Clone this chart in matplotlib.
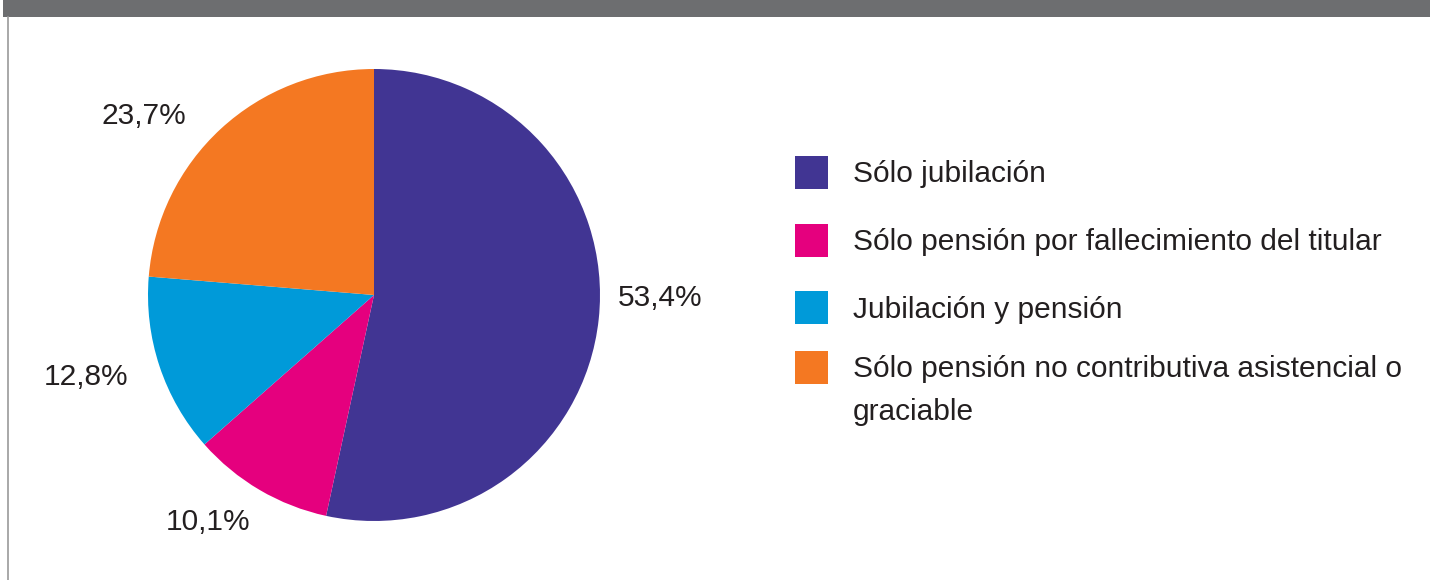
import matplotlib.pyplot as plt
from matplotlib.patches import Rectangle

# Data
categories = ["Sólo jubilación",
              "Sólo pensión por fallecimiento del titular",
              "Jubilación y pensión",
              "Sólo pensión no contributiva asistencial o\ngraciable"]
values = [53.4, 10.1, 12.8, 23.7]
colors = ["#413593", "#e5007e", "#009ad9", "#f47822"]

# Layout (pixel positions, y measured from bottom)
label_pos = [(660, 282), (208, 58), (86, 203), (144, 464)]
legend_rows = [408, 340, 273, 213]
line_step = 43  # px between wrapped legend lines

plt.rcParams['font.family'] = ['Liberation Sans', 'DejaVu Sans']
text_color = "#231f20"
fs = 21.5

fig = plt.figure(figsize=(14.3, 5.8), dpi=100)
ax = fig.add_axes([0, 0, 1, 1])

# header band and left frame line
ax.add_patch(Rectangle((3, 563), 1427, 17, color="#6d6e70", lw=0))
ax.plot([8, 8], [0, 563], color="#9a9a9a", lw=1.2)

wedges, texts, autotexts = ax.pie(
    values, colors=colors, startangle=90, counterclock=False,
    center=(374, 285), radius=226,
    autopct=lambda p: f"{p:.1f}%".replace('.', ','),
    textprops=dict(fontsize=fs, color=text_color),
    wedgeprops=dict(linewidth=0))
for t, pos in zip(autotexts, label_pos):
    t.set_position(pos)

# legend
for cat, c, y in zip(categories, colors, legend_rows):
    ax.add_patch(Rectangle((795, y - 16.5), 33, 33, color=c, lw=0))
    extra = cat.count('\n') * line_step
    ax.text(853, y - 10.5 - extra, cat, fontsize=fs, color=text_color,
            ha='left', va='baseline', linespacing=1.7)

ax.set_xlim(0, 1430)
ax.set_ylim(0, 580)
ax.set_aspect('equal')
ax.axis('off')

fig.savefig("out.png", dpi=100)
